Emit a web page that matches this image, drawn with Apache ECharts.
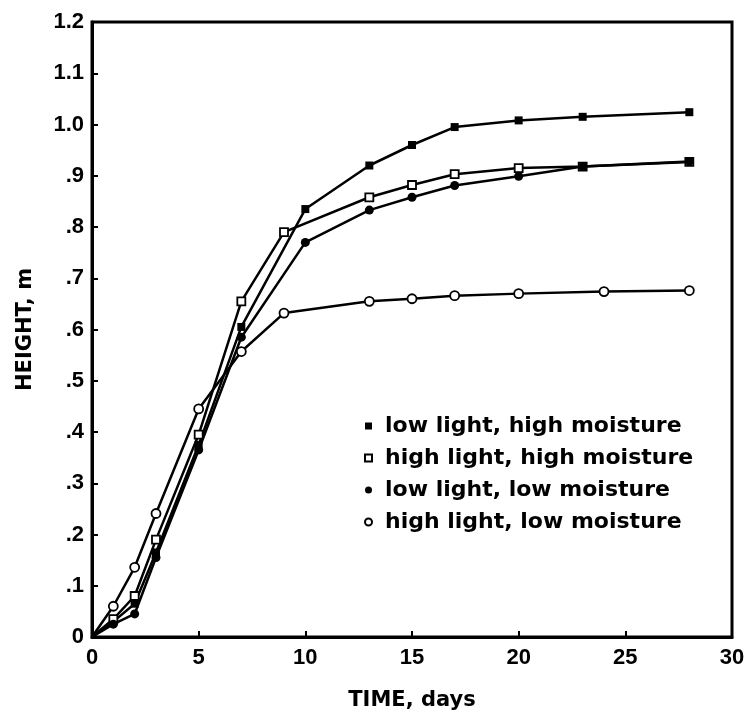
<!DOCTYPE html>
<html>
<head>
<meta charset="utf-8">
<script src="https://cdn.jsdelivr.net/npm/echarts@6/dist/echarts.min.js"></script>
<style>
  html, body { margin: 0; padding: 0; background: #fff; }
  #chart { width: 748px; height: 719px; }
</style>
</head>
<body>
<div id="chart"></div>
<script>
// 数据：天数 / 高度 (m)
var seriesNames = [
    'low light, high moisture',
    'high light, high moisture',
    'low light, low moisture',
    'high light, low moisture'
];
var lowLightHighMoist = [[0, 0], [1, 0.03], [2, 0.065], [3, 0.165], [5, 0.375], [7, 0.605], [10, 0.835],
    [13, 0.92], [15, 0.96], [17, 0.995], [20, 1.008], [23, 1.015], [28, 1.024]];
var highLightHighMoist = [[0, 0], [1, 0.035], [2, 0.08], [3, 0.19], [5, 0.395], [7, 0.655], [9, 0.79],
    [13, 0.858], [15, 0.882], [17, 0.903], [20, 0.915], [23, 0.918], [28, 0.927]];
var lowLightLowMoist = [[0, 0], [1, 0.025], [2, 0.045], [3, 0.155], [5, 0.365], [7, 0.585], [10, 0.77],
    [13, 0.833], [15, 0.858], [17, 0.881], [20, 0.899], [23, 0.918], [28, 0.928]];
var highLightLowMoist = [[0, 0], [1, 0.06], [2, 0.136], [3, 0.241], [5, 0.445], [7, 0.557], [9, 0.632],
    [13, 0.655], [15, 0.66], [17, 0.666], [20, 0.67], [24, 0.674], [28, 0.676]];
var yTickLabels = ['0', '.1', '.2', '.3', '.4', '.5', '.6', '.7', '.8', '.9', '1.0', '1.1', '1.2'];

var tickFont = { color: '#000', fontFamily: 'Liberation Sans', fontWeight: 'bold', fontSize: 22 };

function makeSeries(name, data, symbol, filled, size) {
    // 原点不画标记
    var pts = data.map(function(d) {
        return d[0] === 0 ? { value: d, symbol: 'none' } : d;
    });
    return {
        name: name,
        type: 'line',
        data: pts,
        symbol: symbol,
        symbolSize: size,
        showAllSymbol: true,
        lineStyle: { color: '#000', width: 2.5 },
        itemStyle: {
            color: filled ? '#000' : '#fff',
            borderColor: '#000',
            borderWidth: filled ? 0 : 1.8
        },
        emphasis: { disabled: true },
        z: 3
    };
}

var chart = echarts.init(document.getElementById('chart'));
chart.setOption({
    animation: false,
    backgroundColor: '#fff',
    grid: {
        left: 92, top: 22, right: 16, bottom: 82,
        show: true, borderColor: '#000', borderWidth: 3
    },
    legend: {
        orient: 'vertical',
        left: 359,
        top: 410,
        itemWidth: 7,
        itemHeight: 7,
        itemGap: 10,
        selectedMode: false,
        textStyle: {
            color: '#000', fontFamily: 'DejaVu Sans', fontWeight: 'bold', fontSize: 22,
            padding: [0, 0, 0, 8]
        },
        data: [
            { name: seriesNames[0], icon: 'rect' },
            { name: seriesNames[1], icon: 'rect' },
            { name: seriesNames[2], icon: 'circle' },
            { name: seriesNames[3], icon: 'circle' }
        ]
    },
    xAxis: {
        type: 'value',
        min: 0, max: 30, interval: 5,
        name: 'TIME, days',
        nameLocation: 'middle',
        nameGap: 53,
        nameTextStyle: { color: '#000', fontFamily: 'DejaVu Sans', fontWeight: 'bold', fontSize: 21 },
        axisLine: { lineStyle: { color: '#000', width: 3 } },
        axisTick: { inside: true, length: 6, lineStyle: { color: '#000', width: 2 } },
        axisLabel: Object.assign({ margin: 10 }, tickFont),
        splitLine: { show: false }
    },
    yAxis: {
        type: 'value',
        min: 0, max: 1.2, interval: 0.1,
        name: 'HEIGHT, m',
        nameLocation: 'middle',
        nameGap: 56,
        nameTextStyle: { color: '#000', fontFamily: 'DejaVu Sans', fontWeight: 'bold', fontSize: 21 },
        axisLine: { lineStyle: { color: '#000', width: 3 } },
        axisTick: { inside: true, length: 6, lineStyle: { color: '#000', width: 2 } },
        axisLabel: Object.assign({
            margin: 8,
            formatter: function(v) {
                return yTickLabels[Math.round(v * 10)];
            }
        }, tickFont),
        splitLine: { show: false }
    },
    series: [
        makeSeries(seriesNames[0], lowLightHighMoist, 'rect', true, 8),
        makeSeries(seriesNames[1], highLightHighMoist, 'rect', false, 8),
        makeSeries(seriesNames[2], lowLightLowMoist, 'circle', true, 9),
        makeSeries(seriesNames[3], highLightLowMoist, 'circle', false, 9)
    ]
});
</script>
</body>
</html>
